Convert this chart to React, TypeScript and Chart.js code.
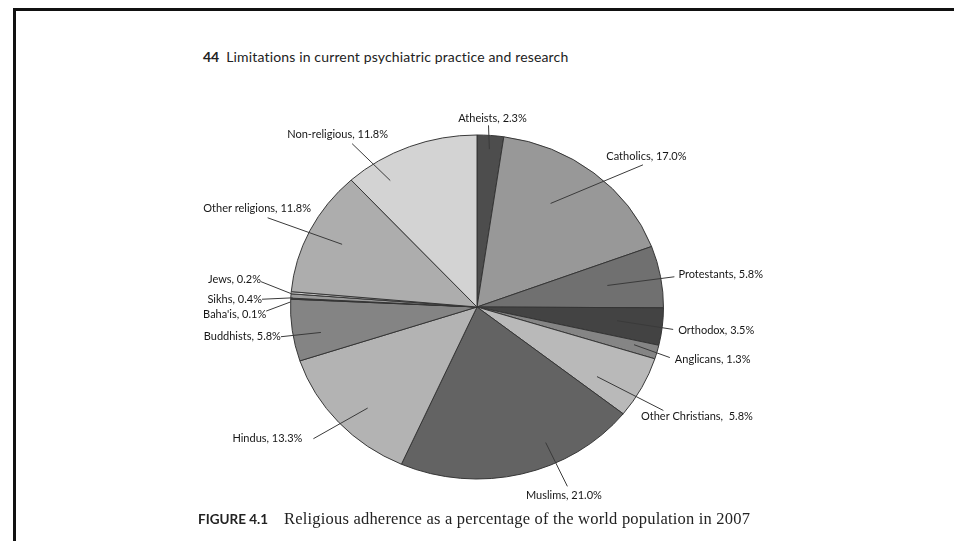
import React, { useEffect, useRef } from "react";
import { Chart, registerables } from "chart.js";

Chart.register(...registerables);

// ---- data ----
const categories = [
  "Atheists", "Catholics", "Protestants", "Orthodox", "Anglicans", "Other Christians",
  "Muslims", "Hindus", "Buddhists", "Baha'is", "Sikhs", "Jews", "Other religions", "Non-religious",
];
const shares = [2.3, 17.0, 5.8, 3.5, 1.3, 5.8, 21.0, 13.3, 5.8, 0.1, 0.4, 0.2, 11.8, 11.8];
const dataLabels = [
  "Atheists, 2.3%", "Catholics, 17.0%", "Protestants, 5.8%", "Orthodox, 3.5%", "Anglicans, 1.3%",
  "Other Christians,  5.8%", "Muslims, 21.0%", "Hindus, 13.3%", "Buddhists, 5.8%", "Baha'is, 0.1%",
  "Sikhs, 0.4%", "Jews, 0.2%", "Other religions, 11.8%", "Non-religious, 11.8%",
];

// ---- styles ----
const sliceColors = [
  "#4d4d4d", "#989898", "#707070", "#434343", "#858585", "#b9b9b9", "#636363",
  "#b3b3b3", "#848484", "#3a3a3a", "#9a9a9a", "#d0d0d0", "#adadad", "#d3d3d3",
];
const RADIUS_X = 186.5;
const Y_SQUASH = 172 / 186.5;

// label layout: text polar (angle offset from slice mid in deg, radius factor),
// leader inner polar, attach side and offsets
type Lay = { ta: number; tr: number; ia: number; ir: number; side: string; dx: number; dy: number };
const labelLayout: Lay[] = [
  { ta: 0.2, tr: 1.10, ia: 0, ir: 0.92, side: "B", dx: -4, dy: 7 },
  { ta: 7.3, tr: 1.26, ia: -5.6, ir: 0.72, side: "B", dx: -3.5, dy: 8 },
  { ta: 2.0, tr: 1.32, ia: 0, ir: 0.71, side: "L", dx: 4, dy: 2 },
  { ta: -0.5, tr: 1.29, ia: -0.5, ir: 0.755, side: "L", dx: 5, dy: -1 },
  { ta: -1.6, tr: 1.30, ia: -0.6, ir: 0.87, side: "L", dx: 5, dy: -2 },
  { ta: 0.4, tr: 1.34, ia: 4.2, ir: 0.76, side: "T", dx: -33.5, dy: -6 },
  { ta: -9.2, tr: 1.19, ia: -11.2, ir: 0.87, side: "T", dx: 3.5, dy: -9 },
  { ta: 7.9, tr: 1.36, ia: -2.9, ir: 0.83, side: "R", dx: 11, dy: 0 },
  { ta: 0, tr: 1.27, ia: -2.2, ir: 0.85, side: "R", dx: 0, dy: 0 },
  { ta: -4.6, tr: 1.30, ia: -1.1, ir: 1.0, side: "R", dx: 0, dy: -3 },
  { ta: -1.7, tr: 1.30, ia: -0.6, ir: 0.99, side: "R", dx: 0, dy: 0 },
  { ta: 2.2, tr: 1.31, ia: -0.3, ir: 1.0, side: "R", dx: 0, dy: 2 },
  { ta: -0.5, tr: 1.31, ia: 0.4, ir: 0.81, side: "B", dx: 10.5, dy: 9 },
  { ta: -15.5, tr: 1.25, ia: -11.1, ir: 0.87, side: "B", dx: 14.5, dy: 9 },
];

const LABEL_FONT = "11px Lato";

const squashPlugin = {
  id: "squash",
  beforeDatasetsDraw(chart: any) {
    const arc = chart.getDatasetMeta(0).data[0];
    const ctx = chart.ctx;
    ctx.save();
    ctx.translate(arc.x, arc.y);
    ctx.scale(1, Y_SQUASH);
    ctx.translate(-arc.x, -arc.y);
  },
  afterDatasetsDraw(chart: any) {
    chart.ctx.restore();
  },
};

const labelPlugin = {
  id: "pieLabels",
  afterDraw(chart: any) {
    const ctx = chart.ctx;
    const arcs = chart.getDatasetMeta(0).data;
    ctx.save();
    ctx.font = LABEL_FONT;
    ctx.textAlign = "center";
    ctx.textBaseline = "middle";
    arcs.forEach((arc: any, i: number) => {
      const lay = labelLayout[i];
      const cx = arc.x, cy = arc.y;
      const rx = arc.outerRadius, ry = arc.outerRadius * Y_SQUASH;
      const mid = (arc.startAngle + arc.endAngle) / 2;
      const ta = mid + (lay.ta * Math.PI) / 180;
      const ia = mid + (lay.ia * Math.PI) / 180;
      const tx = cx + lay.tr * rx * Math.cos(ta);
      const ty = cy + lay.tr * ry * Math.sin(ta);
      const ix = cx + lay.ir * rx * Math.cos(ia);
      const iy = cy + lay.ir * ry * Math.sin(ia);
      const text = dataLabels[i];
      const w = ctx.measureText(text).width;
      let ox = tx, oy = ty;
      if (lay.side === "B" || lay.side === "T") {
        ox = tx + lay.dx;
        oy = ty + lay.dy;
      } else if (lay.side === "L") {
        ox = tx - w / 2 - lay.dx;
        oy = ty + lay.dy;
      } else {
        ox = tx + w / 2 + lay.dx;
        oy = ty + lay.dy;
      }
      ctx.strokeStyle = "#3a3a3a";
      ctx.lineWidth = 1;
      ctx.beginPath();
      ctx.moveTo(ox, oy);
      ctx.lineTo(ix, iy);
      ctx.stroke();
      ctx.fillStyle = "#161616";
      ctx.fillText(text, tx, ty);
    });
    ctx.restore();
  },
};

export default function App() {
  const ref = useRef<HTMLCanvasElement>(null);
  useEffect(() => {
    if (!ref.current) return;
    const chart = new Chart(ref.current, {
      type: "pie",
      data: {
        labels: categories,
        datasets: [
          {
            data: shares,
            backgroundColor: sliceColors,
            borderColor: "#333333",
            borderWidth: 1,
          },
        ],
      },
      options: {
        responsive: false,
        animation: false,
        devicePixelRatio: 1,
        radius: RADIUS_X,
        layout: { padding: { left: 100, right: 100, top: 100, bottom: 27 } },
        plugins: { legend: { display: false }, tooltip: { enabled: false }, title: { display: false } },
      } as any,
      plugins: [squashPlugin, labelPlugin],
    });
    return () => chart.destroy();
  }, []);

  return (
    <div style={{ position: "fixed", left: 0, top: 0, width: 954, height: 541, background: "#fff", overflow: "hidden" }}>
      <div style={{ position: "absolute", left: 13, top: 8, right: 0, height: 3, background: "#111" }} />
      <div style={{ position: "absolute", left: 13, top: 8, width: 3, bottom: 0, background: "#111" }} />
      <div style={{ position: "absolute", left: 203, top: 48, font: "14px Lato", color: "#222", whiteSpace: "nowrap" }}>
        <b>44</b>
        <span style={{ marginLeft: 7, letterSpacing: 0.15 }}>Limitations in current psychiatric practice and research</span>
      </div>
      <canvas ref={ref} width={954} height={541} style={{ position: "absolute", left: 0, top: 0 }} />
      <div style={{ position: "absolute", left: 198, top: 509, color: "#222", whiteSpace: "nowrap" }}>
        <span style={{ font: "bold 13.5px Lato" }}>FIGURE 4.1</span>
        <span style={{ font: "16.5px 'Liberation Serif'", marginLeft: 16, letterSpacing: 0.2 }}>
          Religious adherence as a percentage of the world population in 2007
        </span>
      </div>
    </div>
  );
}
